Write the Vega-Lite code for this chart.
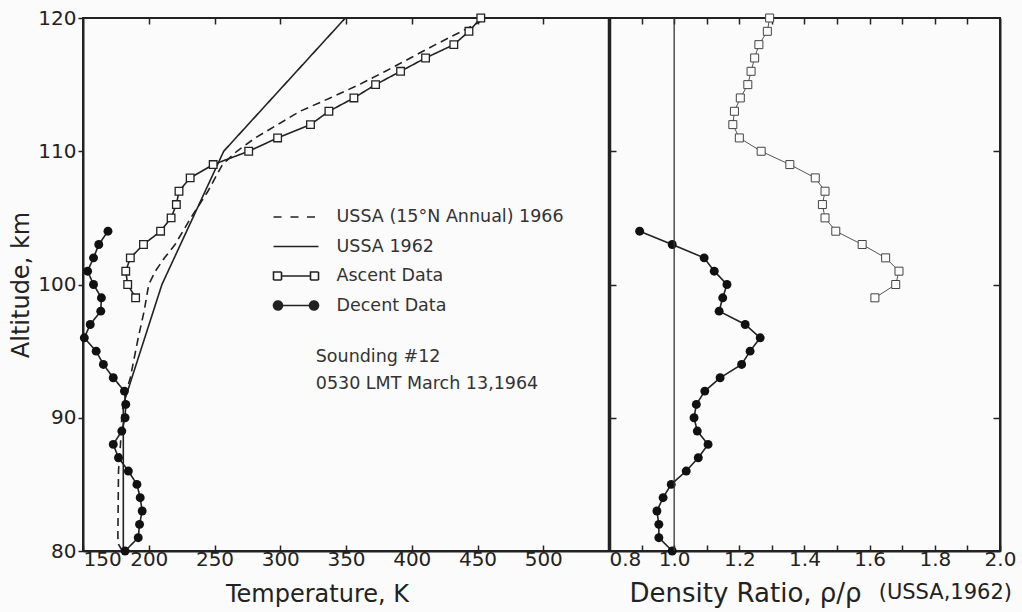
{
  "$schema": "https://vega.github.io/schema/vega-lite/v6.json",
  "background": "#fbfbfb",
  "padding": {"left": 8, "top": 7, "right": 5, "bottom": 5},
  "datasets": {
    "temp": [
      {"series": "USSA 1962", "alt": 80, "T": 180.65},
      {"series": "USSA 1962", "alt": 91, "T": 180.65},
      {"series": "USSA 1962", "alt": 100, "T": 210.02},
      {"series": "USSA 1962", "alt": 110, "T": 257.0},
      {"series": "USSA 1962", "alt": 120, "T": 349.49},
      {"series": "USSA (15°N Annual) 1966", "alt": 80, "T": 180},
      {"series": "USSA (15°N Annual) 1966", "alt": 80.5, "T": 177},
      {"series": "USSA (15°N Annual) 1966", "alt": 81, "T": 176.5},
      {"series": "USSA (15°N Annual) 1966", "alt": 86, "T": 177},
      {"series": "USSA (15°N Annual) 1966", "alt": 88, "T": 178.5},
      {"series": "USSA (15°N Annual) 1966", "alt": 90, "T": 179.5},
      {"series": "USSA (15°N Annual) 1966", "alt": 91, "T": 180.5},
      {"series": "USSA (15°N Annual) 1966", "alt": 92, "T": 183},
      {"series": "USSA (15°N Annual) 1966", "alt": 93, "T": 186},
      {"series": "USSA (15°N Annual) 1966", "alt": 94, "T": 188},
      {"series": "USSA (15°N Annual) 1966", "alt": 96, "T": 192},
      {"series": "USSA (15°N Annual) 1966", "alt": 98, "T": 196.5},
      {"series": "USSA (15°N Annual) 1966", "alt": 100, "T": 200},
      {"series": "USSA (15°N Annual) 1966", "alt": 101, "T": 205},
      {"series": "USSA (15°N Annual) 1966", "alt": 102, "T": 212},
      {"series": "USSA (15°N Annual) 1966", "alt": 103, "T": 220},
      {"series": "USSA (15°N Annual) 1966", "alt": 105, "T": 232},
      {"series": "USSA (15°N Annual) 1966", "alt": 107, "T": 245},
      {"series": "USSA (15°N Annual) 1966", "alt": 109, "T": 256},
      {"series": "USSA (15°N Annual) 1966", "alt": 110, "T": 267},
      {"series": "USSA (15°N Annual) 1966", "alt": 111, "T": 281},
      {"series": "USSA (15°N Annual) 1966", "alt": 112, "T": 298},
      {"series": "USSA (15°N Annual) 1966", "alt": 113, "T": 315},
      {"series": "USSA (15°N Annual) 1966", "alt": 114, "T": 338},
      {"series": "USSA (15°N Annual) 1966", "alt": 115, "T": 360},
      {"series": "USSA (15°N Annual) 1966", "alt": 116, "T": 380},
      {"series": "USSA (15°N Annual) 1966", "alt": 117, "T": 399},
      {"series": "USSA (15°N Annual) 1966", "alt": 118, "T": 418},
      {"series": "USSA (15°N Annual) 1966", "alt": 119, "T": 438},
      {"series": "USSA (15°N Annual) 1966", "alt": 120, "T": 457},
      {"series": "Ascent Data", "alt": 99, "T": 190},
      {"series": "Ascent Data", "alt": 100, "T": 184},
      {"series": "Ascent Data", "alt": 101, "T": 182.5},
      {"series": "Ascent Data", "alt": 102, "T": 186},
      {"series": "Ascent Data", "alt": 103, "T": 196},
      {"series": "Ascent Data", "alt": 104, "T": 209},
      {"series": "Ascent Data", "alt": 105, "T": 217},
      {"series": "Ascent Data", "alt": 106, "T": 221},
      {"series": "Ascent Data", "alt": 107, "T": 223},
      {"series": "Ascent Data", "alt": 108, "T": 231.5},
      {"series": "Ascent Data", "alt": 109, "T": 249},
      {"series": "Ascent Data", "alt": 110, "T": 276},
      {"series": "Ascent Data", "alt": 111, "T": 298},
      {"series": "Ascent Data", "alt": 112, "T": 323},
      {"series": "Ascent Data", "alt": 113, "T": 337},
      {"series": "Ascent Data", "alt": 114, "T": 356},
      {"series": "Ascent Data", "alt": 115, "T": 372.5},
      {"series": "Ascent Data", "alt": 116, "T": 391.5},
      {"series": "Ascent Data", "alt": 117, "T": 410.5},
      {"series": "Ascent Data", "alt": 118, "T": 432},
      {"series": "Ascent Data", "alt": 119, "T": 443.5},
      {"series": "Ascent Data", "alt": 120, "T": 452.5},
      {"series": "Decent Data", "alt": 80, "T": 182},
      {"series": "Decent Data", "alt": 81, "T": 192},
      {"series": "Decent Data", "alt": 82, "T": 193},
      {"series": "Decent Data", "alt": 83, "T": 195},
      {"series": "Decent Data", "alt": 84, "T": 193.5},
      {"series": "Decent Data", "alt": 85, "T": 191},
      {"series": "Decent Data", "alt": 86, "T": 184.5},
      {"series": "Decent Data", "alt": 87, "T": 177},
      {"series": "Decent Data", "alt": 88, "T": 173},
      {"series": "Decent Data", "alt": 89, "T": 179.5},
      {"series": "Decent Data", "alt": 90, "T": 182},
      {"series": "Decent Data", "alt": 91, "T": 182.5},
      {"series": "Decent Data", "alt": 92, "T": 181.5},
      {"series": "Decent Data", "alt": 93, "T": 173},
      {"series": "Decent Data", "alt": 94, "T": 165.5},
      {"series": "Decent Data", "alt": 95, "T": 160},
      {"series": "Decent Data", "alt": 96, "T": 151},
      {"series": "Decent Data", "alt": 97, "T": 155.5},
      {"series": "Decent Data", "alt": 98, "T": 163.5},
      {"series": "Decent Data", "alt": 99, "T": 164},
      {"series": "Decent Data", "alt": 100, "T": 158},
      {"series": "Decent Data", "alt": 101, "T": 153.5},
      {"series": "Decent Data", "alt": 102, "T": 158},
      {"series": "Decent Data", "alt": 103, "T": 162},
      {"series": "Decent Data", "alt": 104, "T": 169}
    ],
    "dens": [
      {"series": "Ascent Data", "alt": 99, "r": 1.616},
      {"series": "Ascent Data", "alt": 100, "r": 1.68},
      {"series": "Ascent Data", "alt": 101, "r": 1.69},
      {"series": "Ascent Data", "alt": 102, "r": 1.649},
      {"series": "Ascent Data", "alt": 103, "r": 1.577},
      {"series": "Ascent Data", "alt": 104, "r": 1.496},
      {"series": "Ascent Data", "alt": 105, "r": 1.463},
      {"series": "Ascent Data", "alt": 106, "r": 1.455},
      {"series": "Ascent Data", "alt": 107, "r": 1.463},
      {"series": "Ascent Data", "alt": 108, "r": 1.433},
      {"series": "Ascent Data", "alt": 109, "r": 1.355},
      {"series": "Ascent Data", "alt": 110, "r": 1.267},
      {"series": "Ascent Data", "alt": 111, "r": 1.2},
      {"series": "Ascent Data", "alt": 112, "r": 1.18},
      {"series": "Ascent Data", "alt": 113, "r": 1.185},
      {"series": "Ascent Data", "alt": 114, "r": 1.203},
      {"series": "Ascent Data", "alt": 115, "r": 1.226},
      {"series": "Ascent Data", "alt": 116, "r": 1.236},
      {"series": "Ascent Data", "alt": 117, "r": 1.247},
      {"series": "Ascent Data", "alt": 118, "r": 1.26},
      {"series": "Ascent Data", "alt": 119, "r": 1.286},
      {"series": "Ascent Data", "alt": 120, "r": 1.293},
      {"series": "Decent Data", "alt": 80, "r": 0.994},
      {"series": "Decent Data", "alt": 81, "r": 0.953},
      {"series": "Decent Data", "alt": 82, "r": 0.953},
      {"series": "Decent Data", "alt": 83, "r": 0.947},
      {"series": "Decent Data", "alt": 84, "r": 0.966},
      {"series": "Decent Data", "alt": 85, "r": 0.991},
      {"series": "Decent Data", "alt": 86, "r": 1.037},
      {"series": "Decent Data", "alt": 87, "r": 1.074},
      {"series": "Decent Data", "alt": 88, "r": 1.104},
      {"series": "Decent Data", "alt": 89, "r": 1.071},
      {"series": "Decent Data", "alt": 90, "r": 1.061},
      {"series": "Decent Data", "alt": 91, "r": 1.068},
      {"series": "Decent Data", "alt": 92, "r": 1.094},
      {"series": "Decent Data", "alt": 93, "r": 1.141},
      {"series": "Decent Data", "alt": 94, "r": 1.207},
      {"series": "Decent Data", "alt": 95, "r": 1.233},
      {"series": "Decent Data", "alt": 96, "r": 1.264},
      {"series": "Decent Data", "alt": 97, "r": 1.218},
      {"series": "Decent Data", "alt": 98, "r": 1.138},
      {"series": "Decent Data", "alt": 99, "r": 1.149},
      {"series": "Decent Data", "alt": 100, "r": 1.162},
      {"series": "Decent Data", "alt": 101, "r": 1.123},
      {"series": "Decent Data", "alt": 102, "r": 1.092},
      {"series": "Decent Data", "alt": 103, "r": 0.994},
      {"series": "Decent Data", "alt": 104, "r": 0.894}
    ]
  },
  "config": {
    "font": "DejaVu Sans",
    "view": {"stroke": "#222", "strokeWidth": 2},
    "axis": {
      "grid": false,
      "domainColor": "#222",
      "domainWidth": 2,
      "tickColor": "#222",
      "tickWidth": 1.5,
      "labelColor": "#222",
      "titleColor": "#222",
      "labelFont": "DejaVu Sans",
      "titleFont": "DejaVu Sans",
      "labelFontSize": 20,
      "titleFontSize": 24,
      "titleFontWeight": "normal"
    },
    "legend": {"labelFont": "DejaVu Sans"}
  },
  "spacing": 0,
  "bounds": "flush",
  "resolve": {"scale": {"strokeDash": "independent"}, "legend": {"strokeDash": "independent"}},
  "hconcat": [
    {
      "width": 526,
      "height": 533,
      "data": {"name": "temp"},
      "layer": [
        {
          "mark": {"type": "line", "stroke": "#222", "strokeWidth": 1.6},
          "encoding": {
            "x": {
              "field": "T", "type": "quantitative",
              "scale": {"domain": [150, 550], "nice": false, "zero": false},
              "axis": {
                "orient": "bottom", "values": [150, 200, 250, 300, 350, 400, 450, 500],
                "tickSize": -6, "labelPadding": 4, "labelFlush": true, "labelFlushOffset": 0,
                "title": "Temperature, K", "titleX": 234, "titleY": 50,
                "titleBaseline": "alphabetic", "titleAlign": "center", "titleAnchor": null
              }
            },
            "y": {
              "field": "alt", "type": "quantitative",
              "scale": {"domain": [80, 120], "nice": false, "zero": false},
              "axis": {
                "orient": "left", "values": [80, 90, 100, 110, 120],
                "tickSize": 5, "labelPadding": 2, "title": "Altitude, km", "titlePadding": 4
              }
            },
            "strokeDash": {
              "field": "series", "type": "nominal",
              "scale": {
                "domain": ["USSA (15°N Annual) 1966", "USSA 1962", "Ascent Data", "Decent Data"],
                "range": [[8, 5], [1, 0], [1, 0], [1, 0]]
              },
              "legend": {
                "orient": "none", "legendX": 202, "legendY": 188, "title": null, "padding": 0,
                "symbolSize": 400, "symbolStrokeWidth": 1.6, "symbolStrokeColor": "#222",
                "labelFontSize": 17.5, "labelColor": "#333", "labelOffset": 29.5, "rowPadding": 9.5,
                "labelLimit": 400,
                "encode": {
                  "symbols": {
                    "update": {
                      "shape": {"signal": "datum.value === 'USSA (15°N Annual) 1966' ? 'M-2.25,0H-1.1M-0.55,0H0.55M1.1,0H2.25' : datum.value === 'USSA 1962' ? 'M-2.25,0H2.25' : datum.value === 'Ascent Data' ? 'M-2.25,-0.4H-1.45V0.4H-2.25ZM-1.45,0H1.45M1.45,-0.4H2.25V0.4H1.45Z' : 'M-1.35,0A0.45,0.45,0,1,1,-2.25,0A0.45,0.45,0,1,1,-1.35,0ZM-1.35,0H1.35M2.25,0A0.45,0.45,0,1,1,1.35,0A0.45,0.45,0,1,1,2.25,0Z'"},
                      "fill": {"signal": "datum.value === 'Decent Data' ? '#222' : datum.value === 'Ascent Data' ? '#fbfbfb' : 'transparent'"},
                      "stroke": {"value": "#222"},
                      "strokeDash": {"value": [1, 0]},
                      "strokeWidth": {"value": 1.6}
                    }
                  }
                }
              }
            },
            "order": {"field": "alt", "type": "quantitative"}
          }
        },
        {
          "transform": [{"filter": "datum.series === 'Ascent Data'"}],
          "mark": {"type": "point", "shape": "square", "filled": true, "fill": "#fbfbfb", "stroke": "#222", "strokeWidth": 1.3, "size": 58, "opacity": 1},
          "encoding": {
            "x": {
              "field": "T", "type": "quantitative",
              "axis": {"orient": "top", "values": [200, 250, 300, 350, 400, 450, 500], "labels": false, "tickSize": -6, "title": null, "domain": false}
            },
            "y": {"field": "alt", "type": "quantitative", "axis": null}
          }
        },
        {
          "transform": [{"filter": "datum.series === 'Decent Data'"}],
          "mark": {"type": "point", "shape": "circle", "filled": true, "fill": "#111", "size": 80, "opacity": 1},
          "encoding": {
            "x": {"field": "T", "type": "quantitative", "axis": null},
            "y": {"field": "alt", "type": "quantitative", "axis": null}
          }
        },
        {
          "data": {"values": [{}]},
          "mark": {"type": "text", "text": "Sounding #12", "align": "left", "baseline": "middle", "fontSize": 17.5, "color": "#333"},
          "encoding": {
            "x": {"datum": 327, "type": "quantitative", "axis": null},
            "y": {"datum": 94.56, "type": "quantitative", "axis": null}
          }
        },
        {
          "data": {"values": [{}]},
          "mark": {"type": "text", "text": "0530 LMT March 13,1964", "align": "left", "baseline": "middle", "fontSize": 17.5, "color": "#333"},
          "encoding": {
            "x": {"datum": 327, "type": "quantitative", "axis": null},
            "y": {"datum": 92.53, "type": "quantitative", "axis": null}
          }
        }
      ],
      "resolve": {"axis": {"x": "independent", "y": "independent"}}
    },
    {
      "width": 391,
      "height": 533,
      "data": {"name": "dens"},
      "title": {"text": "(USSA,1962)", "orient": "bottom", "anchor": "end", "frame": "group", "fontSize": 21, "fontWeight": "normal", "color": "#222", "font": "DejaVu Sans", "baseline": "top", "offset": -24, "dx": 12},
      "layer": [
        {
          "transform": [{"filter": "datum.series === 'Decent Data'"}],
          "mark": {"type": "line", "stroke": "#222", "strokeWidth": 1.6},
          "encoding": {
            "x": {
              "field": "r", "type": "quantitative",
              "scale": {"domain": [0.8, 2.0], "nice": false, "zero": false},
              "axis": {
                "orient": "bottom",
                "values": [0.8, 0.9, 1.0, 1.1, 1.2, 1.3, 1.4, 1.5, 1.6, 1.7, 1.8, 1.9, 2.0],
                "labelExpr": "round(datum.value * 10) % 2 == 0 ? format(datum.value, '.1f') : ''",
                "tickSize": -6, "labelPadding": 4, "labelFlush": false,
                "labelAlign": {"condition": {"test": "datum.value < 0.85", "value": "left"}, "value": "center"},
                "title": "Density Ratio, ρ/ρ", "titleX": 136, "titleY": 50, "titleFontSize": 26,
                "titleBaseline": "alphabetic", "titleAlign": "center", "titleAnchor": null
              }
            },
            "y": {
              "field": "alt", "type": "quantitative",
              "scale": {"domain": [80, 120], "nice": false, "zero": false},
              "axis": {"orient": "left", "values": [90, 100, 110], "labels": false, "tickSize": -7, "title": null, "domainWidth": 3.5}
            },
            "order": {"field": "alt", "type": "quantitative"}
          }
        },
        {
          "transform": [{"filter": "datum.series === 'Ascent Data'"}],
          "mark": {"type": "line", "stroke": "#555", "strokeWidth": 1},
          "encoding": {
            "x": {
              "field": "r", "type": "quantitative",
              "axis": {"orient": "top", "values": [0.9, 1.0, 1.1, 1.2, 1.3, 1.4, 1.5, 1.6, 1.7, 1.8, 1.9], "labels": false, "tickSize": -6, "title": null, "domain": false}
            },
            "y": {
              "field": "alt", "type": "quantitative",
              "axis": {"orient": "right", "values": [90, 100, 110], "labels": false, "tickSize": -7, "title": null}
            },
            "order": {"field": "alt", "type": "quantitative"}
          }
        },
        {
          "transform": [{"filter": "datum.series === 'Ascent Data'"}],
          "mark": {"type": "point", "shape": "square", "filled": true, "fill": "#fbfbfb", "stroke": "#444", "strokeWidth": 1, "size": 64, "opacity": 1},
          "encoding": {
            "x": {"field": "r", "type": "quantitative", "axis": null},
            "y": {"field": "alt", "type": "quantitative", "axis": null}
          }
        },
        {
          "transform": [{"filter": "datum.series === 'Decent Data'"}],
          "mark": {"type": "point", "shape": "circle", "filled": true, "fill": "#111", "size": 80, "opacity": 1},
          "encoding": {
            "x": {"field": "r", "type": "quantitative", "axis": null},
            "y": {"field": "alt", "type": "quantitative", "axis": null}
          }
        },
        {
          "data": {"values": [{}]},
          "mark": {"type": "rule", "stroke": "#333", "strokeWidth": 1.3},
          "encoding": {
            "x": {"datum": 1.0, "type": "quantitative", "axis": null}
          }
        }
      ],
      "resolve": {"axis": {"x": "independent", "y": "independent"}}
    }
  ]
}
